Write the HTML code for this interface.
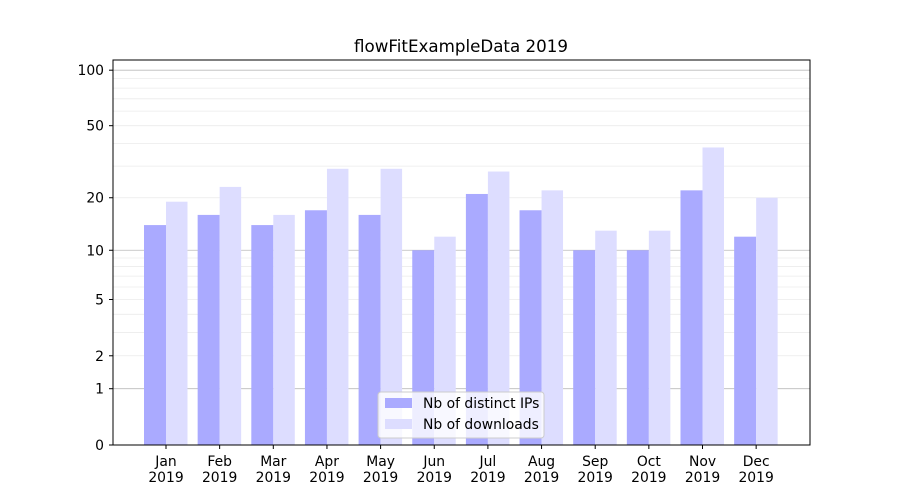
<!DOCTYPE html>
<html><head><meta charset="utf-8"><style>body{margin:0;background:#fff}svg{display:block;font-family:"DejaVu Sans","Liberation Sans",sans-serif}</style></head><body>
<svg width="900" height="500" viewBox="0 0 900 500" xmlns="http://www.w3.org/2000/svg">
<rect width="900" height="500" fill="#fff"/>
<g id="grid" stroke-width="0.8"></g>
<g id="bars"></g>
<rect x="113" y="60" width="697" height="385" fill="none" stroke="#000" stroke-width="1"/>
<g id="ticks" font-size="13.9" fill="#000"></g>
<text x="461" y="52" font-size="16.7" text-anchor="middle">flowFitExampleData 2019</text>
<g font-size="13.9">
<rect x="378" y="392" width="166" height="46" fill="#fff" fill-opacity="0.8" stroke="#ccc" rx="3"/>
<rect x="385" y="398" width="27" height="10" fill="#aaaaff"/>
<text x="423" y="408">Nb of distinct IPs</text>
<rect x="385" y="419" width="27" height="10" fill="#ddddff"/>
<text x="423" y="429">Nb of downloads</text>
</g>
<script>
const ns="http://www.w3.org/2000/svg";
function Y(v){return 445-187*Math.log10(1+v);}
function el(p,t,a,txt){const e=document.createElementNS(ns,t);for(const k in a)e.setAttribute(k,a[k]);if(txt!==undefined)e.textContent=txt;document.getElementById(p).appendChild(e);return e;}
const minors=[2,3,4,5,6,7,8,9,20,30,40,50,60,70,80,90];
minors.forEach(v=>el("grid","line",{x1:113,x2:810,y1:Y(v),y2:Y(v),stroke:"#ebebeb"}));
[1,10,100].forEach(v=>el("grid","line",{x1:113,x2:810,y1:Y(v),y2:Y(v),stroke:"#bbbbbb"}));
const a=[14,16,14,17,16,10,21,17,10,10,22,12],b=[19,23,16,29,29,12,28,22,13,13,38,20];
const m=["Jan","Feb","Mar","Apr","May","Jun","Jul","Aug","Sep","Oct","Nov","Dec"];
for(let i=0;i<12;i++){const c=166+i*53.65;
el("bars","rect",{x:c-22,y:Y(a[i]),width:22,height:445-Y(a[i]),fill:"#aaaaff"});
el("bars","rect",{x:c,y:Y(b[i]),width:21.5,height:445-Y(b[i]),fill:"#ddddff"});
el("ticks","line",{x1:c,x2:c,y1:445,y2:449,stroke:"#000"});
el("ticks","text",{x:c,y:466,"text-anchor":"middle"},m[i]);
el("ticks","text",{x:c,y:482,"text-anchor":"middle"},"2019");}
[0,1,2,5,10,20,50,100].forEach(v=>{el("ticks","line",{x1:109,x2:113,y1:Y(v),y2:Y(v),stroke:"#000"});
el("ticks","text",{x:104,y:Y(v)+5,"text-anchor":"end"},String(v));});
</script>
</svg>
</body></html>
